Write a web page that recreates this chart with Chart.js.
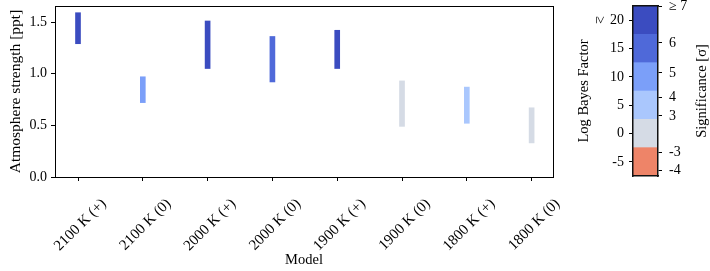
<!DOCTYPE html>
<html lang="en">
<head>
    <meta charset="UTF-8">
    <title>Atmosphere strength</title>
    <script src="https://cdn.jsdelivr.net/npm/chart.js"></script>
    <style>
        body { margin: 0; background: #fff; }
        #wrap { position: relative; width: 710px; height: 271px; }
        #mainBox { position: absolute; left: 0; top: 0; width: 575px; height: 271px; }
        #cbBox { position: absolute; left: 575px; top: 0; width: 135px; height: 271px; }
    </style>
</head>
<body>
<div id="wrap">
    <div id="mainBox"><canvas id="mainChart"></canvas></div>
    <div id="cbBox"><canvas id="cbChart"></canvas></div>
</div>
<script>
    // data
    const models = ['2100 K (+)', '2100 K (0)', '2000 K (+)', '2000 K (0)', '1900 K (+)', '1900 K (0)', '1800 K (+)', '1800 K (0)'];
    const lowVals = [1.29, 0.72, 1.05, 0.92, 1.05, 0.49, 0.52, 0.33];
    const highVals = [1.59, 0.97, 1.51, 1.36, 1.42, 0.93, 0.87, 0.67];
    const barLevel = [5, 3, 5, 4, 5, 1, 2, 1];   // index into levelColors
    const yTicks = [0, 0.5, 1.0, 1.5];

    // colorbar
    const levelColors = ['#ee8468', '#d5dbe5', '#aac7fd', '#7b9ff9', '#4f69d9', '#3b4cc0'];
    const bfEdges = [-7.5, -2.5, 2.5, 7.5, 12.5, 17.5, 22.5];
    const bfTicks = [-5, 0, 5, 10, 15, 20];
    const sigPos = [22.5, 16.0, 10.7, 6.3, 3.1, -3.3, -6.5];
    const sigLabels = ['\u2265 7', '6', '5', '4', '3', '-3', '-4'];

    const serif = '"Liberation Serif", "DejaVu Serif", serif';
    Chart.defaults.font.family = serif;
    Chart.defaults.font.size = 14;
    Chart.defaults.color = '#000';

    const tickGrid = { display: true, drawOnChartArea: false, drawTicks: true, tickLength: 4, color: '#000', offset: false };
    const plainBorder = { display: true, color: '#000', width: 1 };
    const topBorder = { display: true, color: '#000', width: 1, z: 1 };  // drawn over the data
    const cbBorder = { display: true, color: '#111', width: 1.5, z: 1 };  // outline of the colour blocks

    // fix an axis to an exact size and drop the extra room chart.js keeps for edge labels
    function fixSize(size) {
        return s => {
            if (s.isHorizontal()) s.height = size; else s.width = size;
            s.paddingTop = s.paddingBottom = s.paddingLeft = s.paddingRight = 0;
        };
    }
    const bareAxis = (pos, border) => ({
        position: pos,
        offset: false,
        grid: { display: false },
        ticks: { display: false },
        border: border,
        afterFit: fixSize(0)
    });

    new Chart(document.getElementById('mainChart'), {
        type: 'bar',
        data: {
            datasets: [{
                data: models.map((m, i) => ({ x: i, y: [lowVals[i], highVals[i]] })),
                backgroundColor: barLevel.map(l => levelColors[l]),
                borderWidth: 0,
                barThickness: 5
            }]
        },
        options: {
            responsive: true,
            maintainAspectRatio: false,
            animation: false,
            layout: { padding: { top: 6, right: 22, left: 0, bottom: 0 } },
            plugins: { legend: { display: false }, tooltip: { enabled: false } },
            scales: {
                x: {
                    type: 'linear',
                    offset: false,
                    min: -0.355,
                    max: 7.33,
                    grid: tickGrid,
                    border: plainBorder,
                    afterBuildTicks: s => { s.ticks = models.map((m, i) => ({ value: i })); },
                    ticks: {
                        autoSkip: false,
                        minRotation: 45,
                        maxRotation: 45,
                        labelOffset: 26,
                        padding: 14,
                        font: { size: 15 },
                        callback: v => models[v]
                    },
                    title: { display: true, text: 'Model', font: { size: 14.5 }, padding: { top: 0, bottom: 2 } },
                    afterFit: fixSize(94)
                },
                x2: bareAxis('top', topBorder),
                y: {
                    min: 0,
                    max: 1.655,
                    grid: tickGrid,
                    border: plainBorder,
                    afterBuildTicks: s => { s.ticks = yTicks.map(v => ({ value: v })); },
                    ticks: { padding: 4, callback: v => v.toFixed(1) },
                    title: { display: true, text: 'Atmosphere strength [ppt]', font: { size: 15.5 }, padding: { top: 7, bottom: 0 } },
                    afterFit: fixSize(55)
                },
                y2: bareAxis('right', topBorder)
            }
        }
    });

    const cbText = {
        id: 'cbText',
        afterDraw(chart) {
            const ctx = chart.ctx;
            const area = chart.chartArea;
            const y = chart.scales.y;
            ctx.save();
            ctx.fillStyle = '#000';
            ctx.textAlign = 'center';
            ctx.textBaseline = 'middle';
            // rotated "≥" beside the 20 tick
            ctx.save();
            ctx.font = '14px ' + serif;
            ctx.translate(25, y.getPixelForValue(20));
            ctx.rotate(Math.PI / 2);
            ctx.fillText('\u2265', 0, 0);
            ctx.restore();
            // right-hand label, reading bottom to top
            ctx.font = '14.5px ' + serif;
            ctx.translate(127, (area.top + area.bottom) / 2);
            ctx.rotate(-Math.PI / 2);
            ctx.fillText('Significance [\u03c3]', 0, 0);
            ctx.restore();
        }
    };

    new Chart(document.getElementById('cbChart'), {
        type: 'bar',
        data: {
            labels: [''],
            datasets: levelColors.map((c, i) => ({
                data: [[bfEdges[i], bfEdges[i + 1]]],
                backgroundColor: c,
                borderWidth: 0,
                grouped: false,
                barPercentage: 1,
                categoryPercentage: 1
            }))
        },
        options: {
            responsive: true,
            maintainAspectRatio: false,
            animation: false,
            layout: { padding: { top: 6, right: 0, left: 0, bottom: 0 } },
            plugins: { legend: { display: false }, tooltip: { enabled: false } },
            scales: {
                x: {
                    grid: { display: false },
                    ticks: { display: false },
                    border: cbBorder,
                    afterFit: fixSize(95)
                },
                x2: bareAxis('top', cbBorder),
                y: {
                    min: bfEdges[0],
                    max: bfEdges[bfEdges.length - 1],
                    grid: tickGrid,
                    border: cbBorder,
                    afterBuildTicks: s => { s.ticks = bfTicks.map(v => ({ value: v })); },
                    ticks: { padding: 5 },
                    title: { display: true, text: 'Log Bayes Factor', font: { size: 14.5 }, padding: { top: 0, bottom: 0 } },
                    afterFit: fixSize(58)
                },
                y2: {
                    position: 'right',
                    min: bfEdges[0],
                    max: bfEdges[bfEdges.length - 1],
                    grid: tickGrid,
                    border: cbBorder,
                    afterBuildTicks: s => { s.ticks = sigPos.map(v => ({ value: v })); },
                    ticks: { padding: 7, callback: (v, i) => sigLabels[i] },
                    afterFit: fixSize(52)
                }
            }
        },
        plugins: [cbText]
    });
</script>
</body>
</html>
